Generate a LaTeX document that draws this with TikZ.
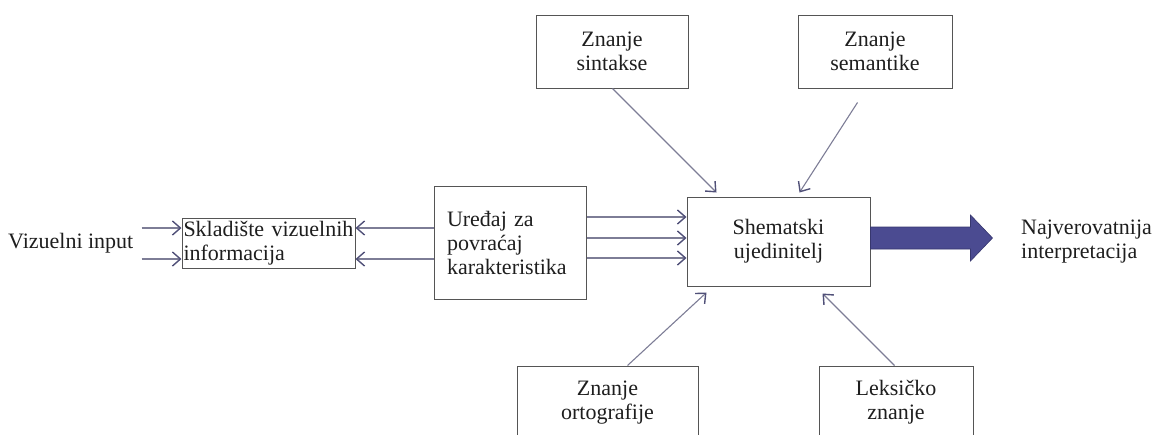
\documentclass[tikz,border=0pt]{standalone}
\usepackage{fontspec}
\setmainfont{Liberation Serif}
\usetikzlibrary{arrows.meta,calc}
\definecolor{boxc}{RGB}{85,85,85}
\definecolor{linec}{RGB}{125,125,150}
\definecolor{tipc}{RGB}{80,80,120}
\definecolor{bigc}{RGB}{75,75,145}
\definecolor{bigd}{RGB}{55,55,110}
\definecolor{txtc}{RGB}{30,30,30}
\begin{document}
\begin{tikzpicture}[x=1pt,y=-1pt,
  every node/.style={font=\fontsize{22}{24}\selectfont, text=txtc},
  box/.style={draw=boxc, line width=1pt, inner sep=0pt, align=center},
  arr/.style={draw=linec, line width=1.1pt,
    -{Straight Barb[length=8pt,width=14pt,line width=1.4pt,color=tipc]}},
  plain/.style={inner sep=0pt, align=left}]
\useasboundingbox (0,0) rectangle (1155,434);
\clip (0,0) rectangle (1155,434);
% boxes
\node[box, minimum width=173pt, minimum height=50pt, text width=170pt, align=left] (skl) at (268.5,243) {Skladište vizuelnih\\informacija};
\node[box, minimum width=152pt, minimum height=113pt, text width=126pt, align=left] (ured) at (510,242.5) {Uređaj za\\povraćaj\\karakteristika};
\node[box, minimum width=183pt, minimum height=89pt] (shem) at (778.5,241.5) {Shematski\\ujedinitelj};
\node[box, minimum width=152pt, minimum height=73pt] (sint) at (612,51.5) {Znanje\\sintakse};
\node[box, minimum width=154pt, minimum height=73pt] (sem) at (875,51.5) {Znanje\\semantike};
\node[box, minimum width=181pt, minimum height=73pt] (orto) at (607.5,402.5) {Znanje\\ortografije};
\node[box, minimum width=154pt, minimum height=73pt] (leks) at (896,402.5) {Leksičko\\znanje};
% free texts
\node[plain, anchor=west] (vi) at (8,243) {Vizuelni input};
\node[plain, anchor=west] (naj) at (1021,241.5) {Najverovatnija\\interpretacija};
% row coordinates
\coordinate (r1) at (0,228);
\coordinate (r2) at (0,259);
\coordinate (s1) at (0,217);
\coordinate (s2) at (0,238);
\coordinate (s3) at (0,258);
% input arrows
\draw[arr] ([xshift=-40pt]skl.west |- r1) -- (skl.west |- r1);
\draw[arr] ([xshift=-40pt]skl.west |- r2) -- (skl.west |- r2);
% back arrows
\draw[arr] (ured.west |- r1) -- (skl.east |- r1);
\draw[arr] (ured.west |- r2) -- (skl.east |- r2);
% three arrows
\draw[arr] (ured.east |- s1) -- (shem.west |- s1);
\draw[arr] (ured.east |- s2) -- (shem.west |- s2);
\draw[arr] (ured.east |- s3) -- (shem.west |- s3);
% diagonal arrows
\draw[arr] ([xshift=77pt]sint.south west) -- ([shift={(30pt,4pt)}]shem.north west);
\draw[arr] ([shift={(60pt,-14pt)}]sem.south west) -- ([shift={(113pt,4pt)}]shem.north west);
\draw[arr] ([xshift=111pt]orto.north west) -- ([shift={(20pt,-6pt)}]shem.south west);
\draw[arr] ([xshift=76pt]leks.north west) -- ([shift={(136pt,-7pt)}]shem.south west);
% big arrow
\coordinate (ba) at ([yshift=3.5pt]shem.east);
\filldraw[fill=bigc, draw=bigd, line width=0.6pt, line join=miter]
  (ba) ++(0pt,11pt) -- ++(100pt,0pt) -- ++(0pt,12pt) -- ++(22pt,-23pt)
  -- ++(-22pt,-23pt) -- ++(0pt,12pt) -- ++(-100pt,0pt) -- cycle;
\end{tikzpicture}
\end{document}
